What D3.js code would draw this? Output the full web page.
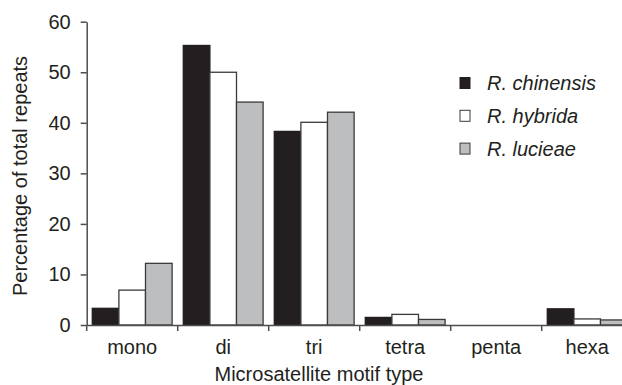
<!DOCTYPE html>
<html>
<head>
<meta charset="utf-8">
<script src="https://cdn.jsdelivr.net/npm/d3@7"></script>
<style>
  body { margin: 0; background: #fff; }
  svg { display: block; font-family: "Liberation Sans", Arial, sans-serif; }
</style>
</head>
<body>
<svg id="chart" width="622" height="385"></svg>
<script>
const categories = ["mono", "di", "tri", "tetra", "penta", "hexa"];
const series = ["R. chinensis", "R. hybrida", "R. lucieae"];
const chinensis = [3.3, 55.3, 38.3, 1.5, 0, 3.2];
const hybrida = [6.9, 50.0, 40.1, 2.1, 0, 1.2];
const lucieae = [12.2, 44.1, 42.1, 1.1, 0, 1.0];
const yTicks = [0, 10, 20, 30, 40, 50, 60];
const colors = ["#231f20", "#ffffff", "#bcbec0"];

const values = [chinensis, hybrida, lucieae];
const data = categories.map((c, i) => ({
  cat: c,
  vals: series.map((s, j) => ({ s: s, v: values[j][i], k: j }))
}));

const svg = d3.select("#chart");
const axisColor = "#4d4d4d";
const fs = 20;

const x0 = d3.scaleBand().domain(categories).range([86.7, 632.7]).padding(0);
const x1 = d3.scaleBand().domain(series).range([0, x0.bandwidth()]).paddingInner(0).paddingOuter(0.21);
const y = d3.scaleLinear().domain([0, 60]).range([325, 21.7]);

// bars
const groups = svg.append("g").selectAll("g")
  .data(data).join("g")
  .attr("transform", d => "translate(" + x0(d.cat) + ",0)");

groups.selectAll("rect")
  .data(d => d.vals.filter(e => e.v > 0))
  .join("rect")
  .attr("x", e => x1(e.s))
  .attr("y", e => y(e.v))
  .attr("width", x1.bandwidth())
  .attr("height", e => y(0) - y(e.v))
  .attr("fill", e => colors[e.k])
  .attr("stroke", e => e.k === 0 ? colors[0] : "#3a3a3a")
  .attr("stroke-width", 1.3);

// y axis
const yAxis = svg.append("g")
  .attr("transform", "translate(86.7,0)")
  .call(d3.axisLeft(y).tickValues(yTicks).tickSize(6).tickSizeOuter(0).tickPadding(10));
yAxis.select(".domain").attr("stroke", axisColor).attr("stroke-width", 1.5);
yAxis.selectAll(".tick line").attr("stroke", axisColor).attr("stroke-width", 1.5);
yAxis.selectAll(".tick text").attr("font-size", fs).attr("fill", "#231f20").attr("font-family", null);

// x axis
const xAxis = svg.append("g")
  .attr("transform", "translate(0,325)")
  .call(d3.axisBottom(x0).tickSize(0).tickPadding(15));
xAxis.select(".domain").attr("stroke", axisColor).attr("stroke-width", 1.5);
xAxis.selectAll(".tick text").attr("font-size", fs).attr("fill", "#231f20").attr("font-family", null);

xAxis.selectAll(".bound")
  .data(categories)
  .join("line")
  .attr("class", "bound")
  .attr("x1", d => x0(d)).attr("x2", d => x0(d))
  .attr("y1", 0).attr("y2", 6)
  .attr("stroke", axisColor).attr("stroke-width", 1.5);

// axis titles
svg.append("text")
  .attr("x", 319).attr("y", 381)
  .attr("text-anchor", "middle")
  .attr("font-size", fs).attr("fill", "#231f20")
  .text("Microsatellite motif type");

svg.append("text")
  .attr("transform", "translate(27,176) rotate(-90)")
  .attr("text-anchor", "middle")
  .attr("font-size", fs).attr("fill", "#231f20")
  .text("Percentage of total repeats");

// legend
const legend = svg.append("g").selectAll("g")
  .data(series).join("g")
  .attr("transform", (d, i) => "translate(460," + (83 + i * 32.8) + ")");

legend.append("rect")
  .attr("x", 0).attr("y", -5.5).attr("width", 10).attr("height", 11)
  .attr("fill", (d, i) => colors[i])
  .attr("stroke", (d, i) => i === 0 ? colors[0] : "#3a3a3a")
  .attr("stroke-width", 1);

legend.append("text")
  .attr("x", 27).attr("y", 7)
  .attr("font-size", fs).attr("font-style", "italic").attr("fill", "#231f20")
  .text(d => d);
</script>
</body>
</html>
